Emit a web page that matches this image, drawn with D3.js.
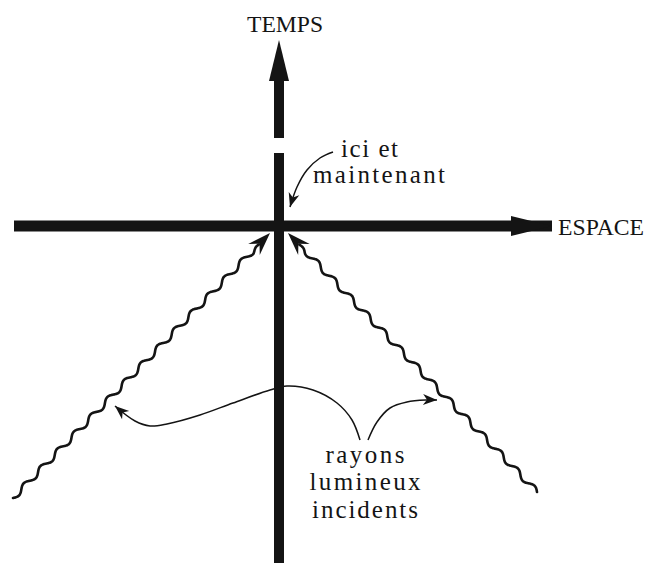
<!DOCTYPE html>
<html><head><meta charset="utf-8">
<script src="https://cdn.jsdelivr.net/npm/d3@7"></script>
<style>body{margin:0;background:#fff} svg{display:block}</style>
</head><body>
<script>
// Diagram data in space/time units (origin = "ici et maintenant")
const spaceAxis = [[-265, 0], [273, 0]];
const timeLower = [[0, -337], [0, 73]];
const timeUpper = [[0, 88], [0, 186]];
const rayFrom = [[-266, -272], [258, -266]];
const rayTo = [[-9, -7], [9, -7]];
const axisNames = ["TEMPS", "ESPACE"];
const axisNameAt = [[-32, 194], [279, -9]];
const axisNameLen = [76, 86];
const noteHere = ["ici et", "maintenant"];
const noteHereAt = [[62, 69], [34, 43]];
const noteHereLen = [57, 132];
const noteRays = ["rayons", "lumineux", "incidents"];
const noteRaysAt = [[86, -237], [86, -264], [86, -292]];
const noteRaysLen = [79, 111, 106];
const arrowHere = [[54, 74], [41, 68], [28, 56], [18, 39], [11, 19]];
const arrowLeft = [[81, -214], [73, -194], [58, -177], [34, -164], [8, -160], [-9, -164], [-46, -177], [-79, -189], [-112, -198], [-129, -200], [-144, -195], [-164, -180]];
const arrowRight = [[89, -214], [98, -196], [111, -182], [128, -176], [148, -174], [158, -174]];

const W = 657, H = 563;
const x = d3.scaleLinear().domain([-279, 378]).range([0, W]);
const y = d3.scaleLinear().domain([-337, 226]).range([H, 0]);

const svg = d3.select("body").append("svg").attr("width", W).attr("height", H);
const ink = "#141414";

const defs = svg.append("defs");
defs.append("marker").attr("id", "ah").attr("markerUnits", "userSpaceOnUse")
  .attr("viewBox", "-15 -6 17 12").attr("refX", 0).attr("refY", 0)
  .attr("markerWidth", 17).attr("markerHeight", 12).attr("orient", "auto")
  .append("path").attr("d", "M0,0 L-14,-5.5 L-10,0 L-14,5.5 Z").attr("fill", ink);

const line = d3.line().x(d => x(d[0])).y(d => y(d[1]));
const curve = d3.line().x(d => x(d[0])).y(d => y(d[1])).curve(d3.curveCatmullRom);

// Axes
svg.append("path").attr("d", line(spaceAxis)).attr("stroke", ink).attr("stroke-width", 11).attr("fill", "none");
svg.append("path").attr("d", line([timeUpper[0], [0, timeUpper[1][1] - 40]])).attr("stroke", ink).attr("stroke-width", 10).attr("fill", "none");
{
  const tx = x(timeUpper[1][0]), ty = y(timeUpper[1][1]);
  svg.append("path").attr("d", `M${tx},${ty} L${tx - 10},${ty + 41} L${tx + 10},${ty + 41} Z`).attr("fill", ink);
  const sx = x(spaceAxis[1][0]), sy = y(spaceAxis[1][1]);
  svg.append("path").attr("d", `M${sx},${sy} L${sx - 41},${sy - 10} L${sx - 41},${sy + 10} Z`).attr("fill", ink);
}

// Wavy light rays
rayFrom.forEach((f, i) => {
  const t = rayTo[i];
  const p0 = [x(f[0]), y(f[1])], p1 = [x(t[0]), y(t[1])];
  const dx = p1[0] - p0[0], dy = p1[1] - p0[1];
  const L = Math.hypot(dx, dy);
  const u = [dx / L, dy / L], n = [-u[1], u[0]];
  const head = 22, amp = 2.6, wl = 24;
  const pts = [];
  const end = L - head + 6;
  for (let s = 0; s <= end; s += 0.5) {
    const damp = Math.min(1, (end - s) / 10);
    const a = amp * Math.sin(2 * Math.PI * s / wl) * damp;
    pts.push([p0[0] + u[0] * s + n[0] * a, p0[1] + u[1] * s + n[1] * a]);
  }
  svg.append("path").attr("d", d3.line().curve(d3.curveBasis)(pts)).attr("stroke", ink).attr("stroke-width", 2.6).attr("fill", "none").attr("stroke-linejoin", "round").attr("stroke-linecap", "round");
  const ang = Math.atan2(dy, dx) * 180 / Math.PI;
  svg.append("path").attr("d", "M0,0 L-23,-8 L-15,0 L-23,8 Z").attr("fill", ink)
    .attr("transform", `translate(${p1[0]},${p1[1]}) rotate(${ang})`);
});

// Annotation arrows
[arrowHere, arrowLeft, arrowRight].forEach(a => {
  svg.append("path").attr("d", curve(a)).attr("stroke", ink).attr("stroke-width", 1.5)
    .attr("fill", "none").attr("marker-end", "url(#ah)");
});

// Lower time axis drawn over the left arrow (arrow passes behind axis)
svg.append("path").attr("d", line(timeLower)).attr("stroke", ink).attr("stroke-width", 10).attr("fill", "none");

// Texts
const font = "'Liberation Serif', 'DejaVu Serif', serif";
axisNames.forEach((t, i) => {
  svg.append("text").text(t).attr("x", x(axisNameAt[i][0])).attr("y", y(axisNameAt[i][1]))
    .attr("font-family", font).attr("font-size", 24).attr("fill", ink)
    .attr("textLength", axisNameLen[i]).attr("lengthAdjust", "spacingAndGlyphs");
});
noteHere.forEach((t, i) => {
  svg.append("text").text(t).attr("x", x(noteHereAt[i][0])).attr("y", y(noteHereAt[i][1]))
    .attr("font-family", font).attr("font-size", 25).attr("fill", ink)
    .attr("textLength", noteHereLen[i]).attr("lengthAdjust", "spacing");
});
noteRays.forEach((t, i) => {
  svg.append("text").text(t).attr("x", x(noteRaysAt[i][0]) - noteRaysLen[i] / 2).attr("y", y(noteRaysAt[i][1]))
    .attr("font-family", font).attr("font-size", 25).attr("fill", ink)
    .attr("textLength", noteRaysLen[i]).attr("lengthAdjust", "spacing");
});
</script>
</body></html>
